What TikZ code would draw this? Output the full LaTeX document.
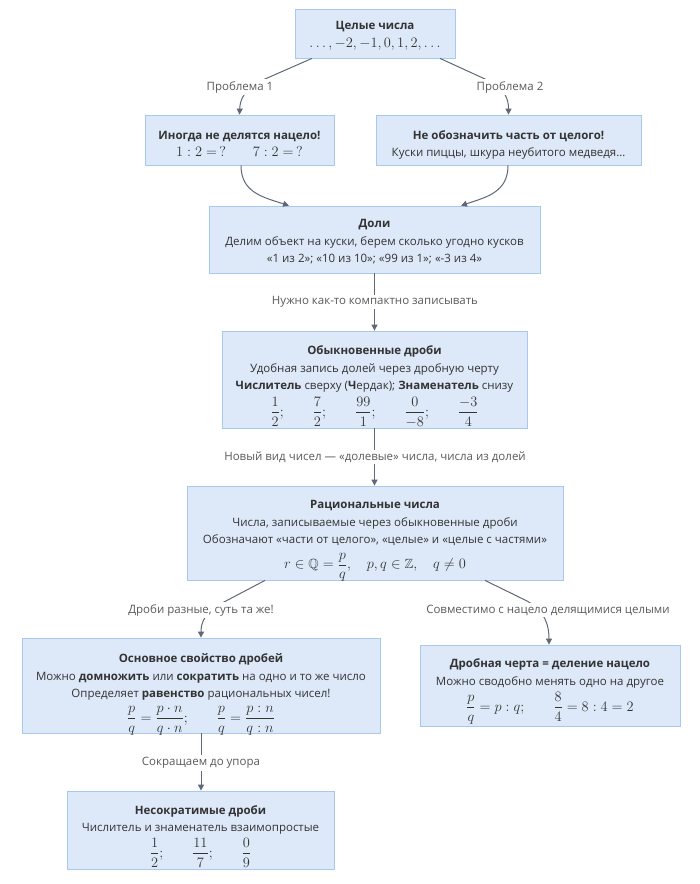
\documentclass[tikz,border=0pt]{standalone}
\usepackage[no-math]{fontspec}
\setmainfont{Open Sans}
\usepackage{amsmath,amssymb}
\usetikzlibrary{arrows.meta,calc}
\definecolor{boxfill}{HTML}{DDE9F9}
\definecolor{boxline}{HTML}{A9C8EE}
\definecolor{edgecol}{HTML}{5E6876}
\definecolor{txt}{HTML}{333333}
\definecolor{lbl}{HTML}{5A5A5A}
\newcommand\mfont{\fontsize{13.3}{16}\selectfont}
\newcommand\tstrut{\rule{0pt}{12pt}}
\newcommand\boxfont{\fontsize{11.5}{17.5}\selectfont\lineskiplimit=-40pt\relax\lineskip=0pt\relax}
\begin{document}
\begin{tikzpicture}[x=1pt,y=-1pt,
 box/.style={draw=boxline, fill=boxfill, line width=0.8pt, inner sep=0pt},
 btxt/.style={anchor=north, align=center, text=txt, inner sep=0pt, font=\boxfont},
 elab/.style={fill=white, text=lbl, font=\fontsize{11.5}{13}\selectfont, inner sep=2pt},
 conn/.style={draw=edgecol, line width=1pt, -{Triangle[length=6pt,width=6pt]}}]
\useasboundingbox (0,0) rectangle (700,884);

% boxes
\node[box, minimum width=160, minimum height=49] (n1) at (375,33.5) {};
\node[box, minimum width=189, minimum height=50] (n2) at (239.5,140) {};
\node[box, minimum width=265, minimum height=50] (n3) at (508.5,140) {};
\node[box, minimum width=331, minimum height=67] (n4) at (374.5,239.5) {};
\node[box, minimum width=305, minimum height=97] (n5) at (374.5,379.5) {};
\node[box, minimum width=376, minimum height=94] (n6) at (375,533) {};
\node[box, minimum width=358, minimum height=95] (n7) at (201,685.5) {};
\node[box, minimum width=260, minimum height=81] (n8) at (550,685.5) {};
\node[box, minimum width=267, minimum height=78] (n9) at (200.5,830) {};

% box texts
\node[btxt] (t1) at ([yshift=-9pt]n1.north)
 {\tstrut\textbf{Целые числа}\\[0.5pt] {\mfont $\ldots,-2,-1,0,1,2,\ldots$}};
\node[btxt] (t2) at ([yshift=-13pt]n2.north)
 {\tstrut\textbf{Иногда не делятся нацело!}\\[-0.5pt] {\mfont $1:2=\,?\qquad 7:2=\,?$}};
\node[btxt] (t3) at ([yshift=-13pt]n3.north)
 {\tstrut\textbf{Не обозначить часть от целого!}\\[-1pt] Куски пиццы, шкура неубитого медведя…};
\node[btxt] (t4) at ([yshift=-10pt]n4.north)
 {\tstrut\textbf{Доли}\\ Делим объект на куски, берем сколько угодно кусков\\ «1 из 2»; «10 из 10»; «99 из 1»; «-3 из 4»};
\node[btxt] (t5) at ([yshift=-12pt]n5.north)
 {\tstrut\textbf{Обыкновенные дроби}\\ Удобная запись долей через дробную черту\\
 \textbf{Числитель} сверху (\textbf{Ч}ердак); \textbf{Знаменатель} снизу\\[9pt]
 {\mfont $\displaystyle \frac{1}{2};\qquad \frac{7}{2};\qquad \frac{99}{1};\qquad \frac{0}{-8};\qquad \frac{-3}{4}$}};
\node[btxt] (t6) at ([yshift=-11pt]n6.north)
 {\tstrut\textbf{Рациональные числа}\\ Числа, записываемые через обыкновенные дроби\\
 Обозначают «части от целого», «целые» и «целые с частями»\\[7.5pt]
 {\mfont $\displaystyle r\in\mathbb{Q}=\frac{p}{q},\quad p,q\in\mathbb{Z},\quad q\neq 0$}};
\node[btxt] (t7) at ([yshift=-13pt]n7.north)
 {\tstrut\textbf{Основное свойство дробей}\\ Можно \textbf{домножить} или \textbf{сократить} на одно и то же число\\
 Определяет \textbf{равенство} рациональных чисел!\\[7pt]
 {\mfont $\displaystyle \frac{p}{q}=\frac{p\cdot n}{q\cdot n};\qquad \frac{p}{q}=\frac{p:n}{q:n}$}};
\node[btxt] (t8) at ([yshift=-11pt]n8.north)
 {\tstrut\textbf{Дробная черта = деление нацело}\\ Можно сводобно менять одно на другое\\[8.5pt]
 {\mfont $\displaystyle \frac{p}{q}=p:q;\qquad \frac{8}{4}=8:4=2$}};
\node[btxt] (t9) at ([yshift=-11.5pt]n9.north)
 {\tstrut\textbf{Несократимые дроби}\\ Числитель и знаменатель взаимопростые\\[8pt]
 {\mfont $\displaystyle \frac{1}{2};\qquad \frac{11}{7};\qquad \frac{0}{9}$}};

% connectors
\draw[conn] ([xshift=-63pt]n1.south) -- (265,79) .. controls (244,88) and (240,100) .. (n2.north);
\draw[conn] ([xshift=65pt]n1.south) -- (485,79) .. controls (506,88) and (508.5,100) .. (n3.north);
\draw[conn] ([xshift=1.5pt]n2.south) .. controls (241,192) and (262,197) .. ([xshift=-85.5pt]n4.north);
\draw[conn] ([xshift=-0.5pt]n3.south) .. controls (508,192) and (487,197) .. ([xshift=86.5pt]n4.north);
\draw[conn] (n4.south) -- (n4.south |- n5.north);
\draw[conn] (n5.south) -- (n5.south |- n6.north);
\draw[conn] ([xshift=-110pt]n6.south) -- (224,602) .. controls (205,612) and (201,622) .. (n7.north);
\draw[conn] ([xshift=110pt]n6.south) -- (527,601) .. controls (545,611) and (549,625) .. ([xshift=-1pt]n8.north);
\draw[conn] (n7.south) -- (n7.south |- n9.north);

% edge labels
\node[elab] (l1) at (240,87) {Проблема 1};
\node[elab] (l2) at (510,87) {Проблема 2};
\node[elab] (l3) at (375,302) {Нужно как-то компактно записывать};
\node[elab] (l4) at (375,457) {Новый вид чисел — «долевые» числа, числа из долей};
\node[elab] (l5) at (201,610) {Дроби разные, суть та же!};
\node[elab] (l6) at (548,610) {Совместимо с нацело делящимися целыми};
\node[elab] (l7) at (201,763) {Сокращаем до упора};
\end{tikzpicture}
\end{document}
